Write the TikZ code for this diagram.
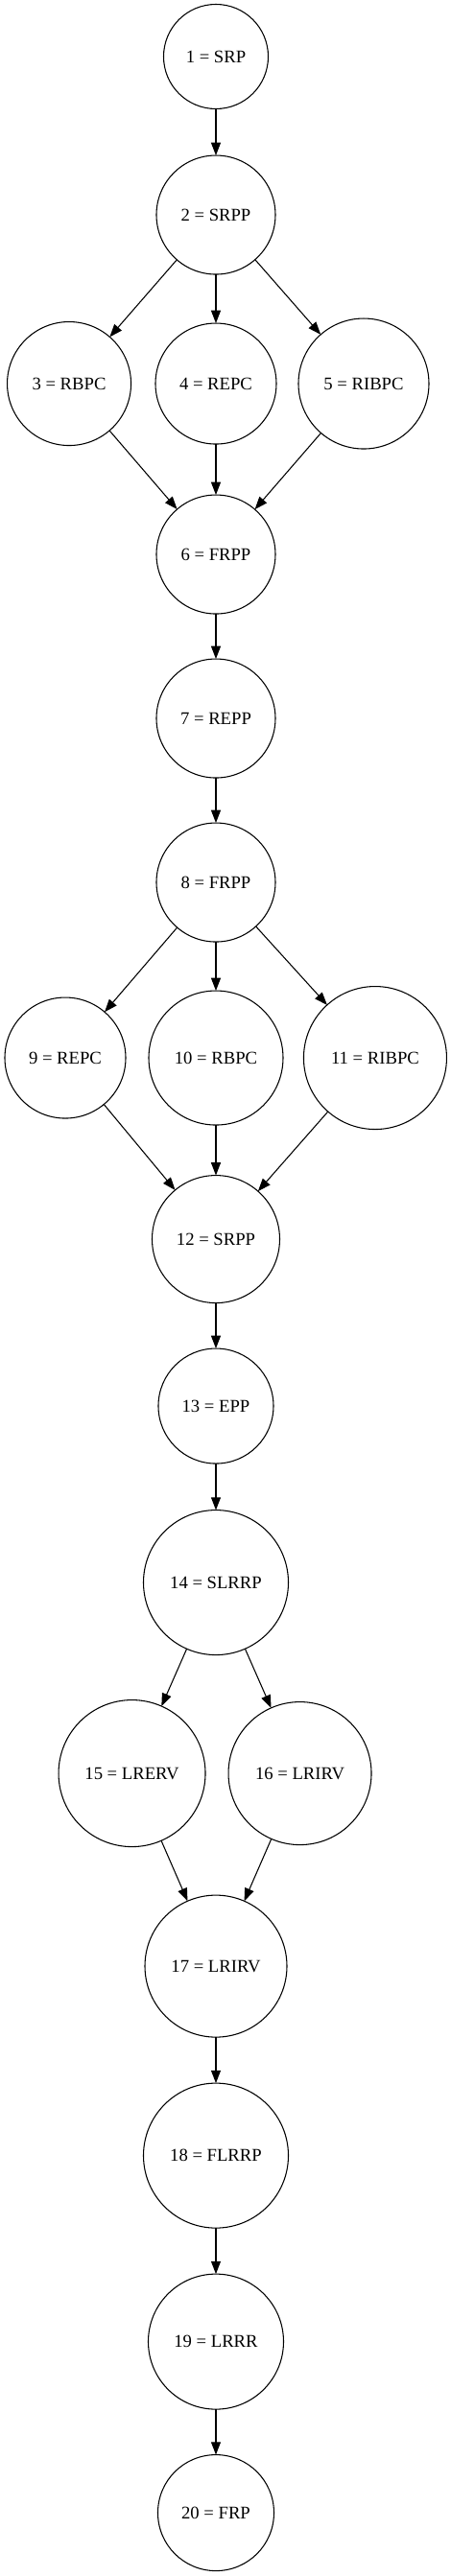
\documentclass[tikz,border=0pt]{standalone}
\usepackage{fontspec}
\setmainfont{Liberation Serif}
\usetikzlibrary{positioning,arrows.meta}

\begin{document}
\begin{tikzpicture}[phasecirc/.style={circle, draw, minimum size=#1, inner sep=0pt, outer sep=0pt, font=\fontsize{14}{16}\selectfont},
    >={Triangle[length=10pt,width=7.5pt]}, line width=0.8pt]
        \useasboundingbox (-168.75pt,44.25pt) rectangle (183.75pt,-1970.25pt);
        % Nodes
        \node [phasecirc=81.75pt] (n1) {1 = SRP};
        \node [phasecirc=93pt, below=36.4pt of n1] (n2) {2 = SRPP};
        \node [phasecirc=94.5pt, below=38.25pt of n2] (n4) {4 = REPC};
        \node [phasecirc=96.75pt, left=19.1pt of n4] (n3) {3 = RBPC};
        \node [phasecirc=102pt, right=17.25pt of n4] (n5) {5 = RIBPC};
        \node [phasecirc=93pt, below=39.75pt of n4] (n6) {6 = FRPP};
        \node [phasecirc=93pt, below=35.25pt of n6] (n7) {7 = REPP};
        \node [phasecirc=93pt, below=35.25pt of n7] (n8) {8 = FRPP};
        
        \node [phasecirc=105pt, below=38.25pt of n8] (n10) {10 = RBPC};
        \node [phasecirc=94.5pt, left=18pt of n10] (n9) {9 = REPC};
        \node [phasecirc=111.75pt, right=16.1pt of n10] (n11) {11 = RIBPC};
        \node [phasecirc=99.75pt, below=39.4pt of n10] (n12) {12 = SRPP};
        \node [phasecirc=90pt, below=35.6pt of n12] (n13) {13 = EPP};
        \node [phasecirc=113.25pt, below=36.4pt of n13] (n14) {14 = SLRRP};
        
        \node [phasecirc=114.75pt, below=35.25pt of n14, xshift=-65.6pt] (n15) {15 = LRERV};
        \node [phasecirc=111.75pt, right=18pt of n15] (n16) {16 = LRIRV};
        \node [phasecirc=111pt, below=187.9pt of n14] (n17) {17 = LRIRV};
        \node [phasecirc=113.25pt, below=36pt of n17] (n18) {18 = FLRRP};
        \node [phasecirc=105.75pt, below=36pt of n18] (n19) {19 = LRRR};
        \node [phasecirc=90.75pt, below=35.6pt of n19] (n20) {20 = FRP};
        
        % Arrows
        \draw[->] (n1) -- (n2);
        \draw[->] (n2) -- (n3);
        \draw[->] (n2) -- (n4);
        \draw[->] (n2) -- (n5);
        \draw[->] (n3) -- (n6);
        \draw[->] (n4) -- (n6);
        \draw[->] (n5) -- (n6);
        \draw[->] (n6) -- (n7);
        \draw[->] (n7) -- (n8);
        \draw[->] (n8) -- (n9);
        \draw[->] (n8) -- (n10);
        \draw[->] (n8) -- (n11);
        \draw[->] (n9) -- (n12);
        \draw[->] (n10) -- (n12);
        \draw[->] (n11) -- (n12);
        \draw[->] (n12) -- (n13);
        \draw[->] (n13) -- (n14);
        \draw[->] (n14) -- (n15);
        \draw[->] (n14) -- (n16);
        \draw[->] (n15) -- (n17);
        \draw[->] (n16) -- (n17);
        \draw[->] (n17) -- (n18);
        \draw[->] (n18) -- (n19);
        \draw[->] (n19) -- (n20);
        
        \end{tikzpicture}
\end{document}
